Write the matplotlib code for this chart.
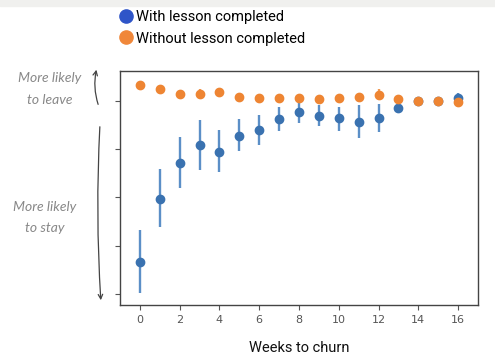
import matplotlib
matplotlib.use('Agg')
import matplotlib.pyplot as plt
from matplotlib.lines import Line2D
from matplotlib.patches import Rectangle, FancyArrowPatch

# weeks to churn
weeks = list(range(17))

# with lesson completed (mean, lower, upper of error bar)
with_mean = [0.66, 1.97, 2.71, 3.08, 2.95, 3.28, 3.40, 3.62, 3.78, 3.69, 3.64, 3.56, 3.64, 3.86, 3.99, 4.00, 4.07]
with_low = [0.01, 1.38, 2.19, 2.57, 2.53, 2.97, 3.09, 3.38, 3.54, 3.48, 3.38, 3.23, 3.36, 3.83, 3.96, 3.93, 3.99]
with_high = [1.33, 2.58, 3.26, 3.61, 3.40, 3.62, 3.71, 3.87, 4.02, 3.92, 3.88, 3.92, 3.94, 3.89, 4.02, 4.09, 4.16]

# without lesson completed
without_mean = [4.33, 4.24, 4.15, 4.15, 4.18, 4.08, 4.06, 4.06, 4.06, 4.04, 4.06, 4.09, 4.13, 4.05, 3.99, 4.00, 3.98]
without_low = [4.31, 4.22, 4.13, 4.07, 4.16, 4.06, 4.04, 4.04, 4.04, 4.02, 4.04, 4.07, 4.01, 4.03, 3.97, 3.94, 3.96]
without_high = [4.35, 4.26, 4.17, 4.24, 4.20, 4.10, 4.08, 4.08, 4.08, 4.06, 4.08, 4.11, 4.25, 4.07, 4.01, 4.06, 4.00]

xticks = [0, 2, 4, 6, 8, 10, 12, 14, 16]

blue = '#3a72b0'
blue_err = '#5b8fc7'
orange = '#ee8533'
orange_err = '#f09a55'

fig = plt.figure(figsize=(4.95, 3.56), dpi=100)
fig.patches.append(Rectangle((0, 1 - 6 / 356), 1, 6 / 356, transform=fig.transFigure,
                             color='#f0f0ee', zorder=0))

ax = fig.add_axes([120 / 495, 1 - 305 / 356, 358 / 495, 234 / 356])

yerr_w = [[m - l for m, l in zip(with_mean, with_low)], [h - m for m, h in zip(with_mean, with_high)]]
yerr_o = [[m - l for m, l in zip(without_mean, without_low)], [h - m for m, h in zip(without_mean, without_high)]]

ax.errorbar(weeks, with_mean, yerr=yerr_w, fmt='o', color=blue, ecolor=blue_err,
            markersize=6, elinewidth=1.7, capsize=0, zorder=3)
ax.errorbar(weeks, without_mean, yerr=yerr_o, fmt='o', color=orange, ecolor=orange_err,
            markersize=6, elinewidth=1.7, capsize=0, zorder=4)

ax.set_xlim(-1, 17)
ax.set_ylim(-0.23, 4.62)
ax.set_xticks(xticks)
ax.set_yticks([0, 1, 2, 3, 4])
ax.set_yticklabels([])
ax.tick_params(colors='#555555', labelsize=8, length=3.5)
for s in ax.spines.values():
    s.set_color('#444444')
    s.set_linewidth(1.0)

fig.text(299 / 495, 1 - 348 / 356, 'Weeks to churn', ha='center', va='center',
         fontsize=10.5, family='Roboto', color='#111111')

handles = [Line2D([], [], marker='o', linestyle='', color='#2f55c8', markersize=9.5),
           Line2D([], [], marker='o', linestyle='', color='#f0873a', markersize=9.5)]
fig.legend(handles, ['With lesson completed', 'Without lesson completed'],
           loc='upper left', bbox_to_anchor=(108 / 495, 1 - 0 / 356), frameon=False,
           prop={'family': 'Roboto', 'size': 10.5}, handletextpad=0.25,
           labelspacing=0.5, borderpad=0.2, handlelength=1.0)

# side annotations
gray = '#888888'
for x, y, s in [(50, 78, 'More likely'), (50, 100, 'to leave'),
                (45, 207, 'More likely'), (45, 228, 'to stay')]:
    fig.text(x / 495, 1 - y / 356, s, ha='center', va='center',
             fontsize=10, style='italic', color=gray, family='Lato')

fig.add_artist(FancyArrowPatch(
    (99 / 495, 1 - 107 / 356), (97 / 495, 1 - 67 / 356), transform=fig.transFigure,
    arrowstyle='->', mutation_scale=8, color='#444444', lw=0.9,
    connectionstyle='arc3,rad=-0.15'))
fig.add_artist(FancyArrowPatch(
    (100 / 495, 1 - 124 / 356), (101 / 495, 1 - 303 / 356), transform=fig.transFigure,
    arrowstyle='->', mutation_scale=8, color='#444444', lw=0.9,
    connectionstyle='arc3,rad=0.03'))

fig.savefig('out.png', dpi=100)
